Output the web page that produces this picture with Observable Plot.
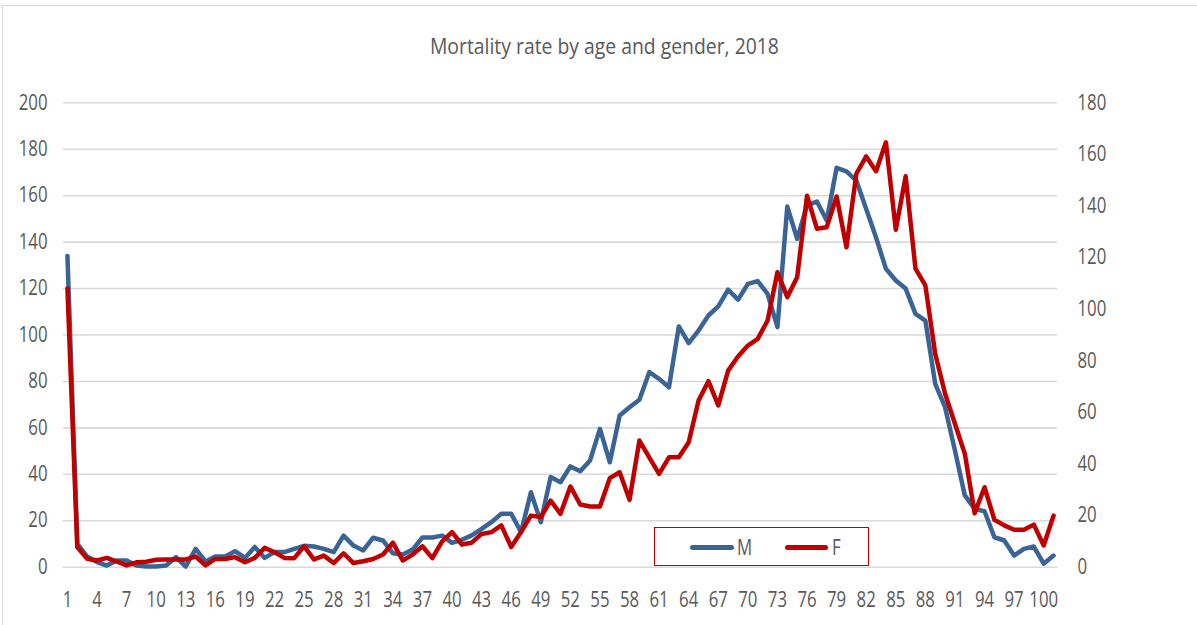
<!DOCTYPE html>
<html>
<head>
<meta charset="utf-8">
<script src="https://cdn.jsdelivr.net/npm/d3@7"></script>
<script src="https://cdn.jsdelivr.net/npm/@observablehq/plot@0.6"></script>
<style>
  html, body { margin: 0; padding: 0; background: #fff; }
  #wrap { position: relative; width: 1197px; height: 625px; overflow: hidden; font-family: "Open Sans", sans-serif; color: #595959; }
  #frame { position: absolute; left: 2px; top: 5px; width: 1400px; height: 800px; border-top: 1.5px solid #d9d9d9; border-left: 1.5px solid #d9d9d9; }
  #title { position: absolute; left: 0; width: 1209px; top: 30px; text-align: center; font-size: 22px; color: #595959; transform: scaleX(0.88); transform-origin: 604px 0; }
  #legend { position: absolute; left: 654px; top: 527px; width: 215px; height: 39px; border: 1.5px solid #c00000; box-sizing: border-box; }
  .sw { position: absolute; height: 5px; border-radius: 3px; top: 17px; }
  .lt { position: absolute; top: 5px; font-size: 21px; color: #595959; transform: scaleX(0.8); transform-origin: 0 0; }
  #chart { position: absolute; left: 0; top: 0; }
</style>
</head>
<body>
<div id="wrap">
  <div id="frame"></div>
  <div id="chart"></div>
  <div id="title">Mortality rate by age and gender, 2018</div>
  <div id="legend">
    <div class="sw" style="left:35px;width:44px;background:#3a6496"></div>
    <div class="lt" style="left:82px">M</div>
    <div class="sw" style="left:130px;width:43px;background:#c00000"></div>
    <div class="lt" style="left:177px">F</div>
  </div>
</div>
<script>
const ages = [1,2,3,4,5,6,7,8,9,10,11,12,13,14,15,16,17,18,19,20,21,22,23,24,25,26,27,28,29,30,31,32,33,34,35,36,37,38,39,40,41,42,43,44,45,46,47,48,49,50,51,52,53,54,55,56,57,58,59,60,61,62,63,64,65,66,67,68,69,70,71,72,73,74,75,76,77,78,79,80,81,82,83,84,85,86,87,88,89,90,91,92,93,94,95,96,97,98,99,100,101];

// M: left axis
const maleRate = [134,10,4.6,2.2,0.7,2.9,2.9,0.7,0.3,0.3,0.7,4.3,0.3,7.9,2.5,4.6,4.6,6.9,4,8.7,
  4,6.5,6.5,7.9,9.2,8.9,7.9,6.5,13.6,9.3,7.2,12.7,11.5,6,5.5,7.6,12.8,12.8,13.6,10.5,
  11.8,13.7,16.5,19.4,23,23,15.1,32.3,19.4,38.8,36.6,43.4,41.3,46,59.6,45.2,65.3,68.9,72.1,84,
  81.1,77.5,103.7,96.5,101.9,108.4,112.3,119.5,115.2,122,123.2,117.7,103.4,155.3,141.4,155.8,157.5,149.3,172,170.5,
  166.5,154.3,142,128.5,123.5,120,109.1,106.2,79,68.9,50.3,30.9,25.1,24.1,12.9,11.5,5,7.9,8.9,1.5,5];

// F: right axis
const femaleRate = [108,7.8,3.3,2.6,3.6,2.2,0.7,1.9,2.1,2.9,3,3,3,4.1,0.7,3.2,3.2,3.9,1.9,3.6,
  7.5,5.8,3.6,3.5,8.1,3,4.5,1.6,5.4,1.6,2.3,3.2,4.9,9.5,2.6,4.9,8.1,3.5,10,13.6,
  8.8,9.5,12.9,13.6,16.2,7.8,13.6,20,19.4,25.8,20.7,31.3,24.3,23.5,23.5,34.5,36.8,26.1,49.1,42.6,
  36.2,42.6,42.6,48.4,64.6,72.1,62.7,76.2,81.7,85.9,88.5,95.6,114.3,104.7,112.4,144,131.2,131.8,143.7,124,
  152.5,159.2,153.5,164.7,130.8,151.5,115.7,109.2,82.7,67.2,55.6,44,20.9,31,18.4,16.2,14.5,14.5,16.5,8.4,20];

const leftTicks = [0,20,40,60,80,100,120,140,160,180,200];
const rightTicks = [0,20,40,60,80,100,120,140,160,180];
const xTicks = [1,4,7,10,13,16,19,22,25,28,31,34,37,40,43,46,49,52,55,58,61,64,67,70,73,76,79,82,85,88,91,94,97,100];

const leftMax = 200, rightMax = 180;
const toLeft = v => v * leftMax / rightMax;

const rows = ages.map((a, i) => ({age: a, M: maleRate[i], F: toLeft(femaleRate[i])}));

const chart = Plot.plot({
  width: 1197,
  height: 625,
  marginTop: 102.3,
  marginBottom: 58.3,
  marginLeft: 63,
  marginRight: 140,
  style: {fontFamily: '"Open Sans", sans-serif', fontSize: "21px", color: "#595959", background: "transparent"},
  x: {domain: [0.6, 101.4], axis: null},
  y: {domain: [0, leftMax], axis: null},
  marks: [
    Plot.gridY(leftTicks, {stroke: "#d9d9d9", strokeOpacity: 1, strokeWidth: 1.6}),
    Plot.axisY(leftTicks, {anchor: "left", tickSize: 0, tickPadding: 16, label: null}),
    Plot.axisY(rightTicks.map(toLeft), {anchor: "right", tickSize: 0, tickPadding: 20, label: null,
      tickFormat: d => String(Math.round(d * rightMax / leftMax))}),
    Plot.axisX(xTicks, {anchor: "bottom", tickSize: 0, tickPadding: 25, label: null}),
    Plot.lineY(rows, {x: "age", y: "M", stroke: "#3a6496", strokeWidth: 4.5, strokeLinejoin: "round"}),
    Plot.lineY(rows, {x: "age", y: "F", stroke: "#c00000", strokeWidth: 4.5, strokeLinejoin: "round"})
  ]
});
// condense tick labels horizontally around their anchor points (Calibri-like narrow look)
d3.select(chart).selectAll("text").each(function() {
  const t = this.getAttribute("transform");
  if (t && t.includes("translate")) this.setAttribute("transform", t + " scale(0.8,1)");
});
document.getElementById("chart").appendChild(chart);
</script>
</body>
</html>
